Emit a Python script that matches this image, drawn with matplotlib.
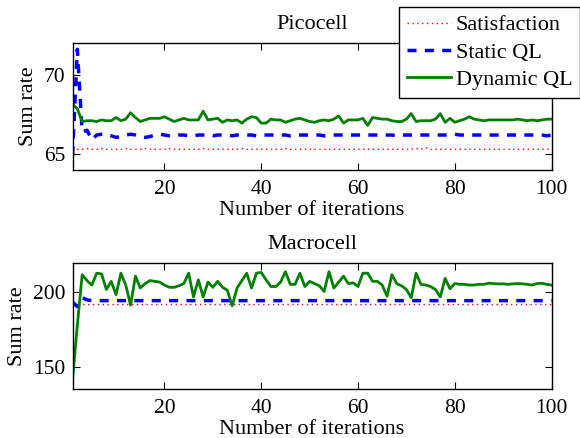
import matplotlib
matplotlib.use("Agg")
import matplotlib.pyplot as plt

plt.rcParams['font.family'] = ['Liberation Serif', 'DejaVu Serif']
plt.rcParams['font.size'] = 16

iterations = list(range(1, 101))

# Picocell sum rate
pico_satisfaction = [
    65.25, 65.3, 65.3, 65.35, 65.3, 65.3, 65.35, 65.3, 65.3, 65.3,
    65.3, 65.35, 65.3, 65.3, 65.3, 65.35, 65.3, 65.3, 65.3, 65.3,
    65.35, 65.3, 65.3, 65.3, 65.3, 65.3, 65.3, 65.35, 65.3, 65.3,
    65.3, 65.3, 65.3, 65.3, 65.3, 65.35, 65.3, 65.3, 65.3, 65.3,
    65.3, 65.3, 65.3, 65.3, 65.35, 65.3, 65.3, 65.3, 65.3, 65.3,
    65.3, 65.3, 65.3, 65.3, 65.3, 65.3, 65.3, 65.3, 65.3, 65.3,
    65.3, 65.3, 65.3, 65.3, 65.3, 65.3, 65.3, 65.3, 65.3, 65.3,
    65.3, 65.35, 65.3, 65.4, 65.3, 65.3, 65.3, 65.3, 65.3, 65.3,
    65.3, 65.3, 65.3, 65.3, 65.3, 65.3, 65.3, 65.3, 65.3, 65.3,
    65.3, 65.3, 65.3, 65.3, 65.3, 65.3, 65.3, 65.3, 65.3, 65.3,
]
pico_static = [
    64.9, 71.6, 66.4, 66.5, 65.9, 66.2, 66.25, 66.25, 66.15, 66.05,
    66.1, 66.2, 66.25, 66.2, 66.1, 66.05, 66.1, 66.2, 66.25, 66.2,
    66.15, 66.15, 66.2, 66.2, 66.15, 66.15, 66.2, 66.2, 66.2, 66.15,
    66.2, 66.2, 66.2, 66.15, 66.2, 66.2, 66.2, 66.2, 66.15, 66.2,
    66.2, 66.2, 66.2, 66.2, 66.2, 66.15, 66.2, 66.2, 66.2, 66.2,
    66.2, 66.2, 66.15, 66.2, 66.2, 66.2, 66.2, 66.2, 66.2, 66.2,
    66.2, 66.2, 66.2, 66.2, 66.2, 66.2, 66.2, 66.15, 66.2, 66.2,
    66.2, 66.2, 66.2, 66.2, 66.2, 66.2, 66.2, 66.2, 66.2, 66.25,
    66.2, 66.2, 66.2, 66.2, 66.2, 66.2, 66.2, 66.2, 66.2, 66.2,
    66.2, 66.2, 66.2, 66.2, 66.2, 66.2, 66.2, 66.2, 66.15, 66.2,
]
pico_dynamic = [
    68.15, 67.85, 67.05, 67.1, 67.1, 67.05, 67.15, 67.1, 67.1, 67.3,
    67.1, 67.2, 67.6, 67.3, 67.05, 67.15, 67.25, 67.25, 67.25, 67.35,
    67.2, 67.05, 67.15, 67.25, 67.15, 67.15, 67.15, 67.7, 67.15, 67.2,
    67.25, 67.0, 67.15, 67.1, 67.15, 66.95, 67.2, 67.35, 67.3, 66.95,
    66.95, 67.2, 67.15, 67.15, 67.0, 67.1, 67.2, 67.25, 67.15, 67.05,
    67.0, 67.1, 67.15, 67.1, 67.2, 67.4, 66.95, 67.15, 67.15, 67.15,
    67.25, 66.8, 67.3, 67.25, 67.2, 67.2, 67.1, 67.05, 67.05, 67.2,
    67.55, 67.05, 67.1, 67.1, 67.1, 67.2, 67.55, 67.0, 67.25, 67.0,
    67.1, 67.2, 67.35, 67.2, 67.15, 67.1, 67.15, 67.15, 67.15, 67.15,
    67.15, 67.15, 67.2, 67.15, 67.1, 67.15, 67.1, 67.15, 67.2, 67.2,
]

# Macrocell sum rate
macro_satisfaction = [
    192.5, 192.5, 192.5, 192.5, 192.5, 192.5, 192.5, 192.5, 192.5, 192.5,
    192.5, 192.5, 192.5, 192.5, 192.5, 192.5, 192.5, 192.5, 192.5, 192.5,
    192.5, 192.5, 192.5, 192.5, 192.5, 192.5, 192.5, 192.5, 192.5, 192.5,
    192.5, 192.5, 192.5, 192.5, 192.5, 192.5, 192.5, 192.5, 192.5, 192.5,
    192.5, 192.5, 192.5, 192.5, 192.5, 192.5, 192.5, 192.5, 192.5, 192.5,
    192.5, 192.5, 192.5, 192.5, 192.5, 192.5, 192.5, 192.5, 192.5, 192.5,
    192.5, 192.5, 192.5, 192.5, 192.5, 192.5, 192.5, 192.5, 192.5, 192.5,
    192.5, 192.5, 192.5, 192.5, 192.5, 192.5, 192.5, 192.5, 192.5, 192.5,
    192.5, 192.5, 192.5, 192.5, 192.5, 192.5, 192.5, 192.5, 192.5, 192.5,
    192.5, 192.5, 192.5, 192.5, 192.5, 192.5, 192.5, 192.5, 192.5, 192.5,
]
macro_static = [
    193.5, 190.5, 196.5, 195.0, 194.5, 194.5, 194.5, 194.5, 194.5, 194.5,
    194.5, 194.5, 194.5, 194.5, 194.5, 194.5, 194.5, 194.5, 194.5, 194.5,
    194.5, 194.5, 194.5, 194.5, 194.5, 194.5, 194.5, 194.5, 194.5, 194.5,
    194.5, 194.5, 194.5, 194.5, 194.5, 194.5, 194.5, 194.5, 194.5, 194.5,
    194.5, 194.5, 194.5, 194.5, 194.5, 194.5, 194.5, 194.5, 194.5, 194.5,
    194.5, 194.5, 194.5, 194.5, 194.5, 194.5, 194.5, 194.5, 194.5, 194.5,
    194.5, 194.5, 194.5, 194.5, 194.5, 194.5, 194.5, 194.5, 194.5, 194.5,
    194.5, 194.5, 194.5, 194.5, 194.5, 194.5, 194.5, 194.5, 194.5, 194.5,
    194.5, 194.5, 194.5, 194.5, 194.5, 194.5, 194.5, 194.5, 194.5, 194.5,
    194.5, 194.5, 194.5, 194.5, 194.5, 194.5, 194.5, 194.5, 194.5, 194.5,
]
macro_dynamic = [
    141.0, 178.0, 212.0, 208.0, 205.0, 213.0, 212.5, 202.0, 207.5, 198.5,
    213.0, 205.0, 191.5, 211.0, 203.0, 206.0, 208.0, 207.5, 207.0, 205.0,
    203.5, 203.5, 204.5, 206.0, 213.0, 197.0, 208.5, 197.0, 207.0, 203.5,
    207.5, 203.5, 201.5, 191.0, 203.0, 208.0, 213.0, 203.0, 213.0, 213.5,
    208.5, 204.0, 204.0, 207.0, 214.0, 205.5, 205.5, 213.0, 204.0, 207.5,
    206.0, 204.5, 200.7, 214.0, 203.0, 207.0, 211.0, 206.0, 206.5, 204.0,
    213.0, 213.0, 207.5, 207.5, 205.0, 197.5, 212.0, 206.0, 204.5, 202.0,
    196.5, 213.0, 205.5, 205.0, 204.0, 202.0, 197.0, 209.5, 202.5, 206.0,
    205.5, 205.5, 205.0, 205.0, 205.5, 205.5, 206.3, 206.0, 205.8, 205.8,
    205.5, 205.8, 206.0, 205.8, 205.5, 205.0, 206.0, 206.2, 205.5, 205.0,
]

fig = plt.figure(figsize=(5.8, 4.38), dpi=100)
ax1 = fig.add_axes([0.125, 0.612, 0.826, 0.290])
ax2 = fig.add_axes([0.125, 0.112, 0.826, 0.288])


def draw(ax, sat, stat, dyn, title, ylim, yticks):
    ax.plot(iterations, sat, color='red', lw=1.0, linestyle=(0, (1, 2.5)), label='Satisfaction')
    ax.plot(iterations, stat, color='blue', lw=2.5, linestyle=(0, (2.6, 2.4)), label='Static QL')
    ax.plot(iterations, dyn, color='green', lw=2.0, label='Dynamic QL')
    ax.set_xlim(1, 100)
    ax.set_ylim(*ylim)
    ax.set_xticks([20, 40, 60, 80, 100])
    ax.set_yticks(yticks)
    ax.tick_params(direction='in', top=True, right=True, length=5, pad=5, labelsize=15.5)
    ax.tick_params(axis='x', pad=7)
    for s in ax.spines.values():
        s.set_linewidth(1.0)
    ax.set_title(title, fontsize=16, pad=10)
    ax.set_xlabel('Number of iterations', labelpad=2)
    ax.set_ylabel('Sum rate', labelpad=4)


draw(ax1, pico_satisfaction, pico_static, pico_dynamic, 'Picocell', (64, 72), [65, 70])
draw(ax2, macro_satisfaction, macro_static, macro_dynamic, 'Macrocell', (135, 220), [150, 200])

leg = ax1.legend(loc='upper right', bbox_to_anchor=(1.0, 0.984), bbox_transform=fig.transFigure,
                 fontsize=16, fancybox=False, framealpha=1, edgecolor='black',
                 handlelength=2.0, handletextpad=0.2, labelspacing=0.3, borderpad=0.35,
                 borderaxespad=0)
leg.get_frame().set_linewidth(1.0)

fig.savefig('out.png', dpi=100)
